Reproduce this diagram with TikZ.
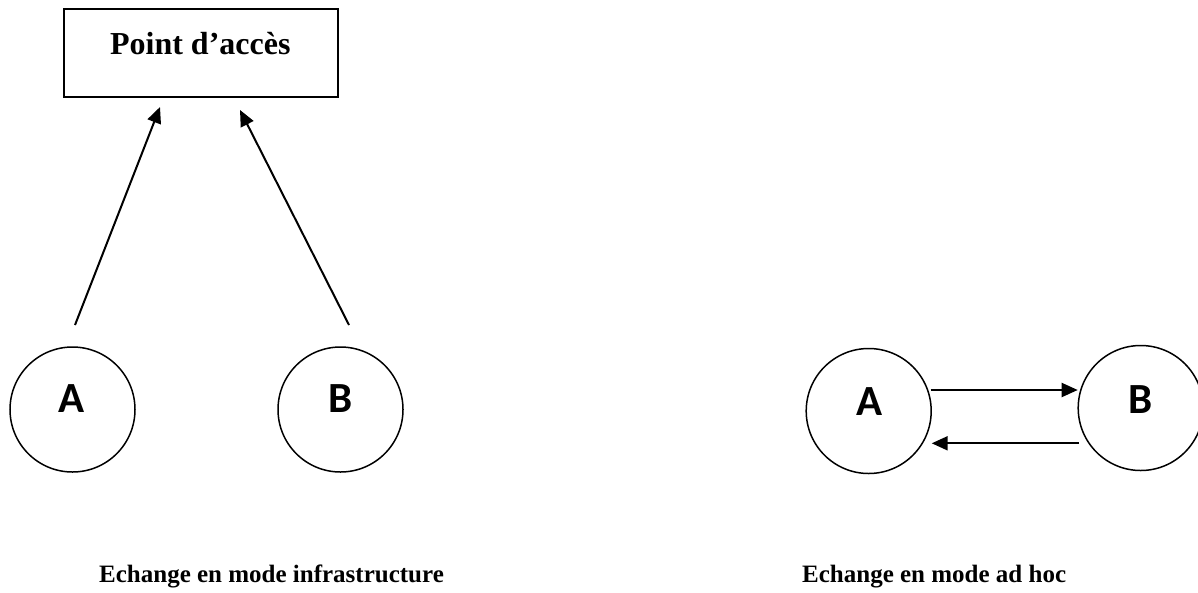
\documentclass[tikz,border=0pt]{standalone}
\usepackage{fontspec}
\setmainfont{Liberation Serif}
\newfontfamily\letterfont{Carlito}
\usetikzlibrary{arrows.meta}
\begin{document}
\begin{tikzpicture}[x=1pt,y=-1pt,
  station/.style={draw,circle,line width=1.5pt,minimum size=125pt,inner sep=0pt},
  apbox/.style={draw,rectangle,line width=1.7pt,minimum width=274pt,minimum height=88pt,inner sep=0pt},
  letter/.style={font=\letterfont\bfseries\fontsize{43}{43}\selectfont,inner sep=0pt},
  caption/.style={font=\bfseries\fontsize{25}{25}\selectfont,anchor=base west,inner sep=0pt},
  link/.style={line width=2pt,-{Triangle[length=16pt,width=14pt]}}]
\useasboundingbox (0,0) rectangle (1198,592);
% infrastructure mode
\node[apbox] (ap) at (201,53) {};
\node[font=\bfseries\fontsize{32}{32}\selectfont,anchor=base,inner sep=0pt] (aplabel) at (200.3,54) {Point d’accès};
\node[station] (A) at (72.5,409.5) {};
\node[letter] (Al) at (72,399) {A};
\node[station] (B) at (340.5,409.5) {};
\node[letter] (Bl) at (340.5,399) {B};
\coordinate (a1) at (75,325);
\coordinate (p1) at (160,107);
\coordinate (b1) at (349,325);
\coordinate (p2) at (240,110);
\draw[link] (a1) -- (p1);
\draw[link] (b1) -- (p2);
\node[caption] (cap1) at (99,582) {Echange en mode infrastructure};
% ad hoc mode
\node[station] (A2) at (868.7,411) {};
\node[letter] (A2l) at (869.5,401.7) {A};
\node[station] (B2) at (1140.7,408) {};
\node[letter] (B2l) at (1141,399.5) {B};
\coordinate (s1) at (930.7,390);
\coordinate (e1) at (1077.7,390);
\coordinate (s2) at (1079,443.3);
\coordinate (e2) at (931.7,443.3);
\draw[link] (s1) -- (e1);
\draw[link] (s2) -- (e2);
\node[caption] (cap2) at (802,582) {Echange en mode ad hoc};
\end{tikzpicture}
\end{document}
